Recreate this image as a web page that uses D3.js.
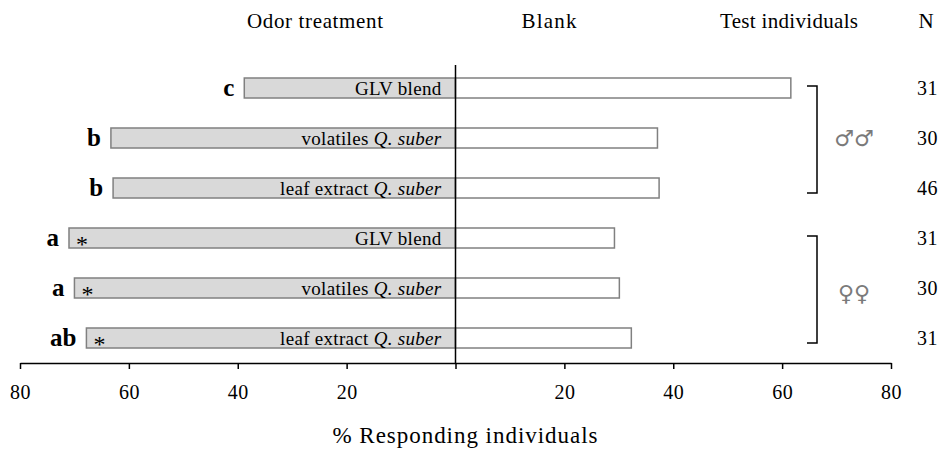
<!DOCTYPE html>
<html lang="en">
<head>
    <meta charset="UTF-8">
    <title>Odor choice bars</title>
    <script src="https://d3js.org/d3.v7.min.js"></script>
    <style>
        body { margin: 0; background: #fff; }
        svg text { font-family: "Liberation Serif", "Times New Roman", Times, "DejaVu Serif", serif; fill: #000; }
    </style>
</head>
<body>
<script>
    // Data
    const labelMain   = ["GLV blend", "volatiles ", "leaf extract ", "GLV blend", "volatiles ", "leaf extract "];
    const labelItalic = ["", "Q. suber", "Q. suber", "", "Q. suber", "Q. suber"];
    const odorPct     = [38.8, 63.3, 62.9, 71.0, 70.0, 67.8];
    const blankPct    = [61.6, 37.1, 37.4, 29.2, 30.1, 32.3];
    const letters     = ["c", "b", "b", "a", "a", "ab"];
    const signif      = [false, false, false, true, true, true];
    const nValues     = [31, 30, 46, 31, 30, 31];
    const groupSymbols = ["\u2642\u2642", "\u2640\u2640"];
    const groupRows    = [[0, 2], [3, 5]];
    const tickValues   = [-80, -60, -40, -20, 0, 20, 40, 60, 80];

    const width = 945, height = 456;
    const axisY = 363;
    const serif = '"Liberation Serif", "Times New Roman", Times, serif';

    const svg = d3.select('body').append('svg')
        .attr('width', width)
        .attr('height', height);

    // Scales
    const x = d3.scaleLinear().domain([-80, 80]).range([20, 891]);
    const y = d3.scalePoint().domain(d3.range(labelMain.length)).range([88, 338]);
    const barH = 20;

    // Odor treatment bars (left)
    svg.selectAll('.odor')
        .data(odorPct)
        .enter().append('rect')
        .attr('class', 'odor')
        .attr('x', d => x(-d))
        .attr('y', (d, i) => y(i) - barH / 2)
        .attr('width', d => x(0) - x(-d))
        .attr('height', barH)
        .attr('fill', '#d9d9d9')
        .attr('stroke', '#808080')
        .attr('stroke-width', 1.5);

    // Blank bars (right)
    svg.selectAll('.blank')
        .data(blankPct)
        .enter().append('rect')
        .attr('class', 'blank')
        .attr('x', x(0))
        .attr('y', (d, i) => y(i) - barH / 2)
        .attr('width', d => x(d) - x(0))
        .attr('height', barH)
        .attr('fill', '#fff')
        .attr('stroke', '#808080')
        .attr('stroke-width', 1.5);

    // Labels inside left bars
    const lab = svg.selectAll('.lab')
        .data(labelMain)
        .enter().append('text')
        .attr('class', 'lab')
        .attr('x', x(0) - 14)
        .attr('y', (d, i) => y(i))
        .attr('dy', '0.35em')
        .attr('text-anchor', 'end')
        .style('font-size', '19px')
        .style('letter-spacing', '0.3px');
    lab.append('tspan').text(d => d);
    lab.append('tspan').style('font-style', 'italic').text((d, i) => labelItalic[i]);

    // Significance letters
    svg.selectAll('.letter')
        .data(letters)
        .enter().append('text')
        .attr('class', 'letter')
        .attr('x', (d, i) => x(-odorPct[i]) - 10)
        .attr('y', (d, i) => y(i))
        .attr('dy', '0.33em')
        .attr('text-anchor', 'end')
        .style('font-size', '25px')
        .style('font-weight', 'bold')
        .text(d => d);

    // Asterisks
    svg.selectAll('.star')
        .data(signif.map((s, i) => ({ s, i })).filter(d => d.s))
        .enter().append('text')
        .attr('class', 'star')
        .attr('x', d => x(-odorPct[d.i]) + 7)
        .attr('y', d => y(d.i) + 14)
        .style('font-size', '24px')
        .text('*');

    // N column
    svg.selectAll('.nval')
        .data(nValues)
        .enter().append('text')
        .attr('class', 'nval')
        .attr('x', 917)
        .attr('y', (d, i) => y(i))
        .attr('dy', '0.35em')
        .style('font-size', '20px')
        .style('letter-spacing', '0.5px')
        .text(d => d);

    // Group brackets + sex symbols
    groupRows.forEach((r, g) => {
        const top = y(r[0]) - 2, bot = y(r[1]) + 5;
        const bx = 817;
        svg.append('path')
            .attr('d', `M${bx - 10},${top}H${bx}V${bot}H${bx - 10}`)
            .attr('fill', 'none')
            .attr('stroke', '#000')
            .attr('stroke-width', 1.5);
        svg.append('text')
            .attr('x', 854)
            .attr('y', (y(r[0]) + y(r[1])) / 2 + g * 5)
            .attr('dy', '0.35em')
            .attr('text-anchor', 'middle')
            .style('font-family', '"DejaVu Sans", sans-serif')
            .style('font-size', '22px')
            .style('fill', '#7a7a7a')
            .text(groupSymbols[g]);
    });

    // Centre line
    svg.append('line')
        .attr('x1', x(0)).attr('x2', x(0))
        .attr('y1', 65).attr('y2', axisY)
        .attr('stroke', '#000')
        .attr('stroke-width', 1.5);

    // Axis
    const axis = svg.append('g')
        .attr('transform', `translate(0,${axisY})`)
        .call(d3.axisBottom(x)
            .tickValues(tickValues)
            .tickSize(6)
            .tickSizeOuter(0)
            .tickFormat(d => d === 0 ? '' : Math.abs(d)));
    axis.attr('font-family', null);
    axis.select('.domain').attr('stroke', '#000').attr('stroke-width', 1.5);
    axis.selectAll('.tick line').attr('stroke', '#000').attr('stroke-width', 1.5);
    axis.selectAll('.tick text')
        .attr('y', 22)
        .style('font-family', serif)
        .style('font-size', '20px')
        .style('letter-spacing', '0.5px');

    // Headers: [text, centre x, width]
    const headers = [["Odor treatment", 315, 136], ["Blank", 549, 55], ["Test individuals", 789, 138], ["N", 926, 15]];
    svg.selectAll('.hdr')
        .data(headers)
        .enter().append('text')
        .attr('class', 'hdr')
        .attr('x', d => d[1])
        .attr('y', 28)
        .attr('text-anchor', 'middle')
        .attr('textLength', d => d[2])
        .attr('lengthAdjust', 'spacing')
        .style('font-size', '21px')
        .text(d => d[0]);

    // Axis title
    svg.append('text')
        .attr('x', 465)
        .attr('y', 443)
        .attr('text-anchor', 'middle')
        .attr('textLength', 265)
        .attr('lengthAdjust', 'spacing')
        .style('font-size', '23px')
        .text('% Responding individuals');
</script>
</body>
</html>
